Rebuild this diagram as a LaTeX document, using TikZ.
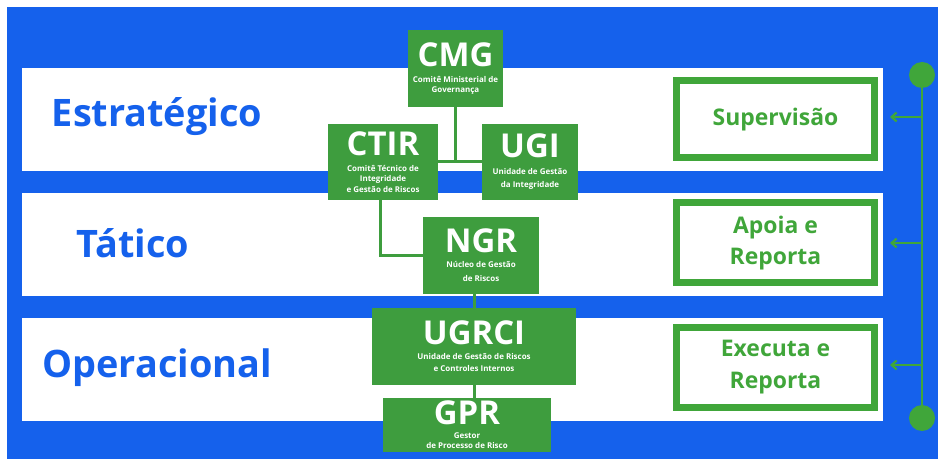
\documentclass[tikz,border=0pt]{standalone}
\usepackage{fontspec}
\setmainfont{Open Sans}
\usetikzlibrary{arrows.meta,positioning,calc}
\definecolor{ogblue}{HTML}{1561EC}
\definecolor{oggreen}{HTML}{3E9D3E}
\definecolor{ogline}{HTML}{40A63A}
\tikzset{
  unit/.style={rectangle, fill=oggreen, text=white, align=center, inner sep=1pt,
               minimum height=77bp, font=\fontsize{8}{10}\selectfont\bfseries},
  role/.style={rectangle, draw=ogline, line width=7bp, fill=white, text=ogline,
               align=center, minimum width=198bp, font=\fontsize{23}{32}\selectfont\bfseries},
  layer/.style={text=ogblue, font=\fontsize{38}{44}\selectfont\bfseries},
  band/.style={fill=white},
  link/.style={draw=oggreen, line width=3bp},
  ar/.style={-{Straight Barb[length=5bp,width=9bp]}, draw=ogline, line width=2.2bp},
}
\newcommand{\acr}[1]{{\fontsize{33}{33}\selectfont #1}}

\begin{document}
\begin{tikzpicture}[x=1bp,y=-1bp]
\useasboundingbox (0,0) rectangle (938,459);

% ---------- background ----------
\fill[ogblue] (7,7) rectangle (938,459);
\fill[band] (22,68) rectangle (883,171);
\fill[band] (22,193) rectangle (883,296);
\fill[band] (22,318) rectangle (883,421);

% ---------- layers ----------
\node[layer] (lE) at (157,117) {Estratégico};
\node[layer] (lT) at (133,243) {Tático};
\node[layer] (lO) at (157,368) {Operacional};

% ---------- units ----------
\node[unit,minimum width=95bp] (cmg) at (455.5,68.5)
  {\acr{CMG}\\[6bp]Comitê Ministerial de\\Governança};
\node[unit,minimum width=110bp,minimum height=76bp] (ctir) at (383,162)
  {\acr{CTIR}\\[6bp]Comitê Técnico de\\Integridade\\[1bp]e Gestão de Riscos};
\node[unit,minimum width=96bp,minimum height=76bp] (ugi) at (530,162)
  {\acr{UGI}\\[7bp]Unidade de Gestão\\[3bp]da Integridade};
\node[unit,minimum width=116bp] (ngr) at (481,255.5)
  {\acr{NGR}\\[5bp]Núcleo de Gestão\\[4bp]de Riscos};
\node[unit,minimum width=204bp] (ugrci) at (474,346.5)
  {\acr{UGRCI}\\[5bp]Unidade de Gestão de Riscos\\[2bp]e Controles Internos};
\node[unit,minimum width=168bp,minimum height=54bp,inner sep=0pt] (gpr) at (467,425)
  {\acr{GPR}\\[4bp]Gestor\\de Processo de Risco};

\draw[link] (ctir.east) -- (ugi.west);
\draw[link] (cmg.south) -- (cmg.south |- ctir.east);
\draw[link] ([xshift=-3bp]ctir.south) |- (ngr.west);
\draw[link] (ugrci.north) -- (ugrci.north |- ngr.south);
\draw[link] (ugrci.south) -- (ugrci.south |- gpr.north);

% ---------- roles ----------
\node[role,minimum height=77bp] (sup) at (775.5,119.5) {Supervisão};
\node[role,minimum height=80bp] (apo) at (775.5,243) {Apoia e\\Reporta};
\node[role,minimum height=79bp] (exe) at (775.5,367.5) {Executa e\\Reporta};

% ---------- timeline ----------
\node[circle,fill=ogline,minimum size=26bp,inner sep=0pt] (top) at (922,75) {};
\node[circle,fill=ogline,minimum size=26bp,inner sep=0pt] (bot) at (922,418) {};
\draw[ogline,line width=2.2bp] (top) -- (bot);
\foreach \r/\y in {sup/117,apo/243,exe/365}{
  \coordinate (t\r) at (922,\y);
  \draw[ar] (t\r) -- ([xshift=12bp]\r.east |- t\r);
}
\end{tikzpicture}
\end{document}
